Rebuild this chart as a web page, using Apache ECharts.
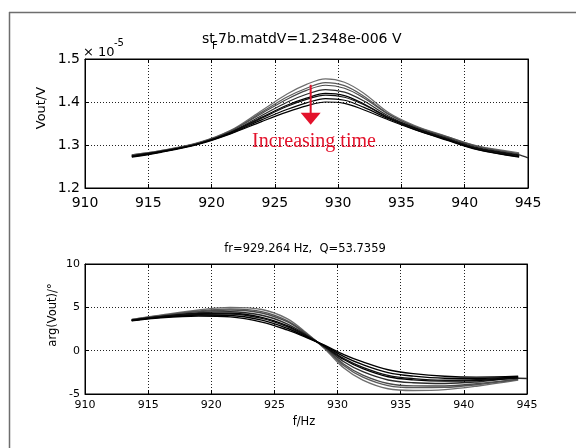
<!DOCTYPE html>
<html>
<head>
<meta charset="utf-8">
<script src="https://cdn.jsdelivr.net/npm/echarts@6/dist/echarts.min.js"></script>
<style>
html,body{margin:0;padding:0;background:#fff;overflow:hidden;}
#c{width:576px;height:448px;}
</style>
</head>
<body>
<div id="c"></div>
<script>
// ---------- data ----------
const freq = [913.7, 916, 919, 921.5, 924, 926, 927.5, 929, 930.5, 932, 934, 936, 938.5, 941, 944.3];
const freqTail = [945]; // one sweep runs a little further

// Vout in units of 1e-5 V (earliest -> latest)
const vout1 = [1.277, 1.287, 1.306, 1.334, 1.381, 1.419, 1.441, 1.454, 1.446, 1.421, 1.375, 1.346, 1.321, 1.298, 1.282];
const vout2 = [1.277, 1.287, 1.305, 1.333, 1.377, 1.412, 1.432, 1.445, 1.438, 1.414, 1.372, 1.344, 1.320, 1.297, 1.280];
const vout3 = [1.276, 1.286, 1.305, 1.332, 1.374, 1.407, 1.427, 1.439, 1.432, 1.410, 1.371, 1.343, 1.319, 1.296, 1.279];
const vout4 = [1.275, 1.285, 1.304, 1.330, 1.369, 1.400, 1.418, 1.429, 1.423, 1.403, 1.367, 1.341, 1.317, 1.294, 1.277, 1.270];
const vout5 = [1.274, 1.285, 1.303, 1.329, 1.365, 1.393, 1.409, 1.420, 1.415, 1.396, 1.364, 1.340, 1.315, 1.292, 1.276];
const vout6 = [1.274, 1.284, 1.303, 1.328, 1.363, 1.390, 1.406, 1.416, 1.411, 1.394, 1.363, 1.339, 1.315, 1.292, 1.275];
const vout7 = [1.273, 1.284, 1.303, 1.327, 1.359, 1.383, 1.398, 1.408, 1.404, 1.388, 1.361, 1.337, 1.313, 1.290, 1.273];
const vout8 = [1.272, 1.283, 1.302, 1.326, 1.355, 1.377, 1.391, 1.400, 1.397, 1.382, 1.358, 1.336, 1.312, 1.289, 1.272];

// arg(Vout) in degrees
const phase1 = [3.60, 4.10, 4.70, 5.00, 4.75, 3.70, 2.10, 0.20, -2.00, -3.40, -4.40, -4.60, -4.50, -4.10, -3.40];
const phase2 = [3.58, 4.05, 4.58, 4.82, 4.51, 3.48, 2.01, 0.27, -1.74, -3.05, -4.03, -4.27, -4.24, -3.93, -3.33];
const phase3 = [3.56, 4.02, 4.51, 4.69, 4.35, 3.34, 1.95, 0.31, -1.57, -2.82, -3.79, -4.06, -4.07, -3.81, -3.28];
const phase4 = [3.53, 3.96, 4.38, 4.49, 4.08, 3.10, 1.85, 0.39, -1.28, -2.43, -3.38, -3.70, -3.78, -3.61, -3.19, -3.22];
const phase5 = [3.51, 3.91, 4.26, 4.31, 3.84, 2.88, 1.75, 0.45, -1.02, -2.08, -3.01, -3.37, -3.52, -3.44, -3.12];
const phase6 = [3.49, 3.89, 4.21, 4.23, 3.73, 2.79, 1.71, 0.48, -0.91, -1.92, -2.85, -3.23, -3.41, -3.36, -3.08];
const phase7 = [3.47, 3.84, 4.10, 4.06, 3.52, 2.59, 1.63, 0.54, -0.68, -1.61, -2.53, -2.94, -3.18, -3.21, -3.02];
const phase8 = [3.45, 3.80, 4.00, 3.90, 3.30, 2.40, 1.55, 0.60, -0.45, -1.30, -2.20, -2.65, -2.95, -3.05, -2.95];

// tick labels
const freqTicks = [910, 915, 920, 925, 930, 935, 940, 945];
const voutTicks = [1.2, 1.3, 1.4, 1.5];
const phaseTicks = [-5, 0, 5, 10];

// annotation anchors (data coords of top plot)
const arrowFrom = [927.83, 1.440];
const arrowTo = [927.83, 1.347];
const noteAnchor = [923.2, 1.307];

// ---------- chart ----------
const voutList = [vout1, vout2, vout3, vout4, vout5, vout6, vout7, vout8];
const phaseList = [phase1, phase2, phase3, phase4, phase5, phase6, phase7, phase8];
const lineColors = ['#6e6e6e', '#5a5a5a', '#4a4a4a', '#2a2a2a', '#000000', '#111111', '#000000', '#000000'];
const allFreq = freq.concat(freqTail);
const pairs = ys => ys.map((y, i) => [allFreq[i], y]);

const FONT = '"DejaVu Sans", "Liberation Sans", sans-serif';
const dotted = { color: '#222', width: 1, type: [1, 2] };

function xAxisCfg(gridIndex, fs, margin) {
  return {
    type: 'value', gridIndex, min: freqTicks[0], max: freqTicks[freqTicks.length - 1],
    interval: freqTicks[1] - freqTicks[0],
    axisLine: { show: true, onZero: false, lineStyle: { color: '#000', width: 1 } },
    axisTick: { show: true, inside: true, length: 4, lineStyle: { color: '#000' } },
    axisLabel: { color: '#000', fontSize: fs, fontFamily: FONT, margin },
    splitLine: { show: true, lineStyle: dotted }
  };
}
function xAxisTop(gridIndex) {
  return {
    type: 'value', gridIndex, position: 'top', min: freqTicks[0], max: freqTicks[freqTicks.length - 1],
    interval: freqTicks[1] - freqTicks[0],
    axisLine: { show: true, onZero: false, lineStyle: { color: '#000' } },
    axisTick: { show: true, inside: true, length: 4, lineStyle: { color: '#000' } },
    axisLabel: { show: false }, splitLine: { show: false }
  };
}
function yAxisCfg(gridIndex, ticks, fs, fmt) {
  return {
    type: 'value', gridIndex, min: ticks[0], max: ticks[ticks.length - 1],
    interval: +(ticks[1] - ticks[0]).toFixed(6),
    axisLine: { show: true, onZero: false, lineStyle: { color: '#000', width: 1 } },
    axisTick: { show: true, inside: true, length: 4, lineStyle: { color: '#000' } },
    axisLabel: { color: '#000', fontSize: fs, fontFamily: FONT, margin: 5, formatter: fmt },
    splitLine: { show: true, lineStyle: dotted }
  };
}
function yAxisRight(gridIndex, ticks) {
  return {
    type: 'value', gridIndex, position: 'right', min: ticks[0], max: ticks[ticks.length - 1],
    interval: +(ticks[1] - ticks[0]).toFixed(6),
    axisLine: { show: true, onZero: false, lineStyle: { color: '#000' } },
    axisTick: { show: true, inside: true, length: 4, lineStyle: { color: '#000' } },
    axisLabel: { show: false }, splitLine: { show: false }
  };
}

const series = [];
voutList.forEach((v, i) => series.push({
  type: 'line', xAxisIndex: 0, yAxisIndex: 0, data: pairs(v), showSymbol: false, smooth: 0.35,
  lineStyle: { color: lineColors[i], width: 1.2 }, silent: true, z: 3
}));
phaseList.forEach((v, i) => series.push({
  type: 'line', xAxisIndex: 1, yAxisIndex: 1, data: pairs(v), showSymbol: false, smooth: 0.35,
  lineStyle: { color: lineColors[i], width: 1.4 }, silent: true, z: 3
}));

const chart = echarts.init(document.getElementById('c'), null, { renderer: 'canvas' });
chart.setOption({
  animation: false,
  backgroundColor: '#fff',
  grid: [
    { left: 85, top: 59, width: 443, height: 129, show: true, borderColor: '#000', borderWidth: 1, backgroundColor: '#fff' },
    { left: 85, top: 264, width: 442, height: 130, show: true, borderColor: '#000', borderWidth: 1, backgroundColor: '#fff' }
  ],
  xAxis: [xAxisCfg(0, 14, 8), xAxisCfg(1, 11, 6), xAxisTop(0), xAxisTop(1)],
  yAxis: [
    yAxisCfg(0, voutTicks, 14, v => v.toFixed(1)),
    yAxisCfg(1, phaseTicks, 11, v => String(v)),
    yAxisRight(0, voutTicks), yAxisRight(1, phaseTicks)
  ],
  series
});

const red = '#e3122b';
const p0 = chart.convertToPixel({ gridIndex: 0 }, arrowFrom);
const p1 = chart.convertToPixel({ gridIndex: 0 }, arrowTo);
const pn = chart.convertToPixel({ gridIndex: 0 }, noteAnchor);
const headH = 12, headW = 20;

chart.setOption({
  graphic: [
    { type: 'line', shape: { x1: 9.5, y1: 12, x2: 9.5, y2: 448 }, style: { stroke: '#6e6e6e', lineWidth: 1.5 }, z: 0, silent: true },
    { type: 'line', shape: { x1: 9, y1: 12.5, x2: 576, y2: 12.5 }, style: { stroke: '#6e6e6e', lineWidth: 1.5 }, z: 0, silent: true },
    { type: 'text', x: 202, y: 39, style: { text: 'st', font: '14px ' + FONT, fill: '#000', textVerticalAlign: 'middle' }, z: 10 },
    { type: 'text', x: 212, y: 46, style: { text: 'F', font: '10px ' + FONT, fill: '#000', textVerticalAlign: 'middle' }, z: 10 },
    { type: 'text', x: 218, y: 39, style: { text: '7b.matdV=1.2348e-006 V', font: '14px ' + FONT, fill: '#000', textVerticalAlign: 'middle' }, z: 10 },
    { type: 'text', x: 83, y: 53, style: { text: '\u00d7 10', font: '13px ' + FONT, fill: '#000', textVerticalAlign: 'middle' }, z: 10 },
    { type: 'text', x: 114, y: 43, style: { text: '-5', font: '10px ' + FONT, fill: '#000', textVerticalAlign: 'middle' }, z: 10 },
    { type: 'text', x: 305, y: 249, style: { text: 'fr=929.264 Hz,  Q=53.7359', font: '11.5px ' + FONT, fill: '#000', textAlign: 'center', textVerticalAlign: 'middle' }, z: 10 },
    { type: 'text', x: 304, y: 422, style: { text: 'f/Hz', font: '11.5px ' + FONT, fill: '#000', textAlign: 'center', textVerticalAlign: 'middle' }, z: 10 },
    { type: 'text', x: 42, y: 108, rotation: Math.PI / 2, style: { text: 'Vout/V', font: '13px ' + FONT, fill: '#000', textAlign: 'center', textVerticalAlign: 'middle' }, z: 10 },
    { type: 'text', x: 53, y: 315, rotation: Math.PI / 2, style: { text: 'arg(Vout)/\u00b0', font: '11.5px ' + FONT, fill: '#000', textAlign: 'center', textVerticalAlign: 'middle' }, z: 10 },
    { type: 'line', shape: { x1: p0[0], y1: p0[1], x2: p1[0], y2: p1[1] - headH + 1 }, style: { stroke: red, lineWidth: 2 }, z: 20 },
    { type: 'polygon', shape: { points: [[p1[0] - headW / 2, p1[1] - headH], [p1[0] + headW / 2, p1[1] - headH], [p1[0], p1[1]]] }, style: { fill: red }, z: 20 },
    { type: 'text', x: pn[0], y: pn[1], style: { text: 'Increasing time', font: '20px "Liberation Serif", "DejaVu Serif", serif', fill: red, textVerticalAlign: 'middle' }, z: 20 }
  ]
});
</script>
</body>
</html>
